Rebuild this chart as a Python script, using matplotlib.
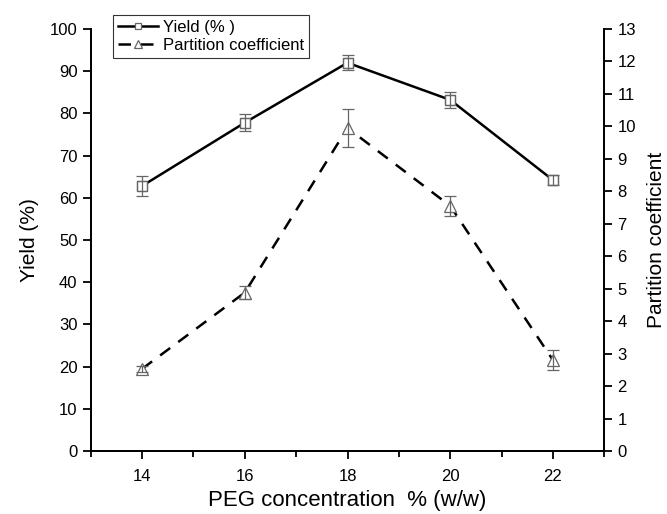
import numpy as np
import matplotlib.pyplot as plt
from matplotlib.ticker import MultipleLocator

plt.rcParams['font.family'] = ['Liberation Sans', 'DejaVu Sans']

peg = [14, 16, 18, 20, 22]
yield_pct = [62.8, 77.8, 92.0, 83.2, 64.2]
yield_err = [2.4, 2.0, 1.8, 1.9, 1.2]
partition = [2.53, 4.88, 9.95, 7.55, 2.80]
partition_err = [0.10, 0.19, 0.60, 0.31, 0.30]

fig = plt.figure(figsize=(6.67, 5.14), dpi=100)
ax = fig.add_axes([0.136, 0.1226, 0.77, 0.821])
ax2 = ax.twinx()

grey = '#666666'
l1, = ax.plot(peg, yield_pct, '-', color='black', lw=1.8, marker='s', ms=6.5,
              mfc='white', mec=grey, mew=0.9, zorder=3)
ax.errorbar(peg, yield_pct, yerr=yield_err, fmt='none', ecolor=grey,
            elinewidth=0.9, capsize=4, capthick=0.9, zorder=4)
ax.plot(peg, yield_pct, 's', ms=6.5, mfc='none', mec=grey, mew=0.9, zorder=5)

l2, = ax2.plot(peg, partition, '--', color='black', lw=1.8, dashes=(5, 4),
               marker='^', ms=8, mfc='white', mec=grey, mew=0.9, zorder=3)
ax2.errorbar(peg, partition, yerr=partition_err, fmt='none', ecolor=grey,
             elinewidth=0.9, capsize=4, capthick=0.9, zorder=4)

ax.set_xlim(13, 23)
ax.set_ylim(0, 100)
ax2.set_ylim(0, 13)
ax.xaxis.set_major_locator(MultipleLocator(2))
ax.xaxis.set_minor_locator(MultipleLocator(1))
ax.yaxis.set_major_locator(MultipleLocator(10))
ax2.yaxis.set_major_locator(MultipleLocator(1))

for a in (ax, ax2):
    a.spines['top'].set_visible(False)
    for s in a.spines.values():
        s.set_linewidth(1.3)
    a.tick_params(which='major', length=6, width=1.3, labelsize=12)
    a.tick_params(which='minor', length=4, width=1.3)
ax.tick_params(axis='x', pad=7)

ax.set_xlabel('PEG concentration  % (w/w)', fontsize=16, labelpad=4)
ax.set_ylabel('Yield (%)', fontsize=15, labelpad=8)
ax2.set_ylabel('Partition coefficient', fontsize=15, labelpad=8)

leg = ax.legend([l1, l2], ['Yield (% )', 'Partition coefficient'],
                loc='upper left', bbox_to_anchor=(0.043, 1.033), fontsize=12,
                frameon=True, fancybox=False, handlelength=2.4, markerscale=0.7,
                borderpad=0.3, labelspacing=0.15, handletextpad=0.3,
                borderaxespad=0)
leg.get_frame().set_edgecolor('black')
leg.get_frame().set_linewidth(0.8)

fig.savefig('out.png', dpi=100)
